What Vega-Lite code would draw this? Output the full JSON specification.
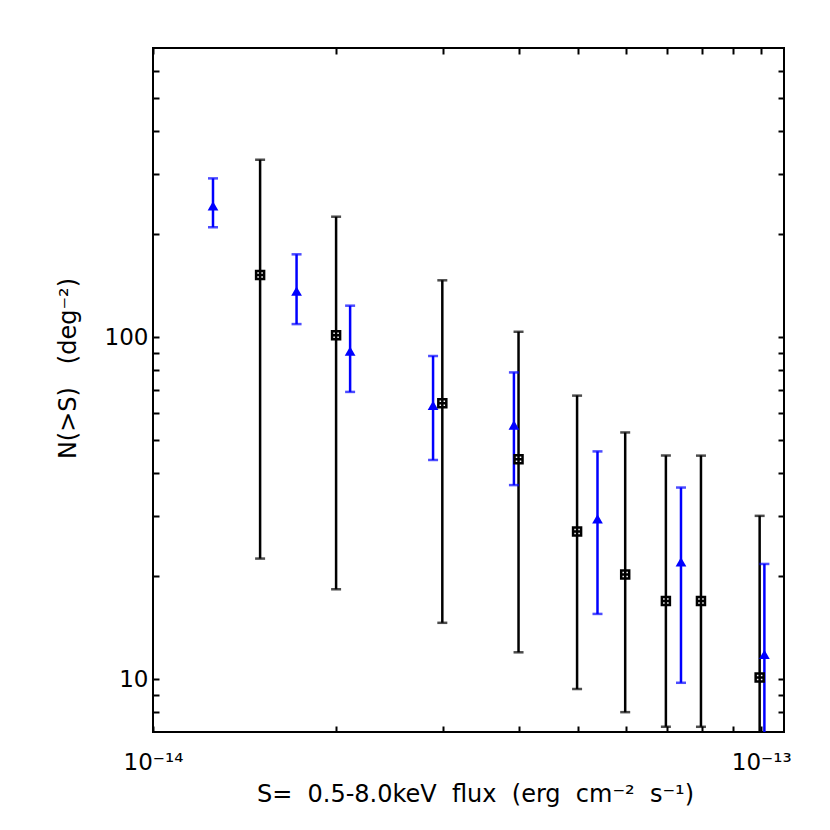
{
  "$schema": "https://vega.github.io/schema/vega-lite/v6.json",
  "width": 631,
  "height": 684,
  "autosize": "none",
  "padding": {"left": 153, "top": 48, "right": 46, "bottom": 98},
  "background": "white",
  "config": {
    "view": {"stroke": "black", "strokeWidth": 2},
    "font": "DejaVu Sans",
    "axis": {
      "labelFont": "DejaVu Sans", "titleFont": "DejaVu Sans",
      "labelColor": "black", "titleColor": "black", "tickColor": "black", "tickWidth": 2,
      "domain": false, "grid": false, "labelFontSize": 23, "titleFontSize": 24,
      "titleFontWeight": "normal", "labelOverlap": false, "labelFlush": false
    }
  },
  "data": {"values": [
    {"series": "triangle", "x": 1.255e-14, "y": 241.7, "ylo": 209.4, "yhi": 291},
    {"series": "triangle", "x": 1.722e-14, "y": 136.3, "ylo": 109.1, "yhi": 174.5},
    {"series": "triangle", "x": 2.109e-14, "y": 91.0, "ylo": 69.1, "yhi": 123.5},
    {"series": "triangle", "x": 2.887e-14, "y": 63.1, "ylo": 43.7, "yhi": 88.0},
    {"series": "triangle", "x": 3.921e-14, "y": 55.3, "ylo": 36.9, "yhi": 78.8},
    {"series": "triangle", "x": 5.38e-14, "y": 29.4, "ylo": 15.5, "yhi": 46.3},
    {"series": "triangle", "x": 7.38e-14, "y": 22.0, "ylo": 9.75, "yhi": 36.3},
    {"series": "triangle", "x": 1.012e-13, "y": 11.8, "ylo": 5, "yhi": 21.7},
    {"series": "square", "x": 1.5e-14, "y": 151.8, "ylo": 22.5, "yhi": 329.9},
    {"series": "square", "x": 2.0e-14, "y": 101.2, "ylo": 18.3, "yhi": 224.8},
    {"series": "square", "x": 2.99e-14, "y": 64.0, "ylo": 14.6, "yhi": 146.5},
    {"series": "square", "x": 3.99e-14, "y": 43.9, "ylo": 11.97, "yhi": 103.6},
    {"series": "square", "x": 4.98e-14, "y": 27.0, "ylo": 9.35, "yhi": 67.4},
    {"series": "square", "x": 5.975e-14, "y": 20.2, "ylo": 8.0, "yhi": 52.6},
    {"series": "square", "x": 6.97e-14, "y": 16.9, "ylo": 7.25, "yhi": 45.0},
    {"series": "square", "x": 7.96e-14, "y": 16.9, "ylo": 7.25, "yhi": 45.0},
    {"series": "square", "x": 9.94e-14, "y": 10.1, "ylo": 5, "yhi": 30.0}
  ]},
  "resolve": {"axis": {"x": "independent", "y": "independent"}},
  "layer": [
    {
      "mark": {"type": "rule", "strokeWidth": 2.5, "clip": true},
      "encoding": {
        "x": {
          "field": "x", "type": "quantitative",
          "scale": {"type": "log", "domain": [1e-14, 1.09e-13], "nice": false},
          "axis": {
            "orient": "bottom",
            "values": [1e-14, 2e-14, 3e-14, 4e-14, 5e-14, 6e-14, 7e-14, 8e-14, 9e-14, 1e-13],
            "tickSize": -6, "labelPadding": 43, "labelBaseline": "alphabetic",
            "labelExpr": "abs(log(datum.value)/LN10 + 14) < 0.01 ? '10⁻¹⁴' : (abs(log(datum.value)/LN10 + 13) < 0.01 ? '10⁻¹³' : '')",
            "title": "S=\u00a0\u00a00.5-8.0keV\u00a0\u00a0flux\u00a0\u00a0(erg\u00a0\u00a0cm⁻²\u00a0\u00a0s⁻¹)",
            "titleX": 322, "titleY": 69, "titleBaseline": "alphabetic", "titleAlign": "center",
            "encode": {"ticks": {"update": {"y2": {"signal": "(abs(log(datum.value)/LN10 + 14) < 0.01 || abs(log(datum.value)/LN10 + 13) < 0.01) ? -12 : -6"}}}}
          }
        },
        "y": {
          "field": "ylo", "type": "quantitative",
          "scale": {"type": "log", "domain": [7, 700], "nice": false},
          "axis": {
            "orient": "left",
            "values": [8, 9, 10, 20, 30, 40, 50, 60, 70, 80, 90, 100, 200, 300, 400, 500, 600],
            "tickSize": -6, "labelPadding": 11,
            "labelExpr": "datum.value == 10 ? '10' : (datum.value == 100 ? '100' : '')",
            "title": "N(>S)\u00a0\u00a0\u00a0(deg⁻²)",
            "titleX": -85, "titleY": 320, "titleAngle": -90, "titleBaseline": "middle", "titleAlign": "center",
            "encode": {"ticks": {"update": {"x2": {"signal": "(datum.value == 10 || datum.value == 100) ? 12 : 6"}}}}
          }
        },
        "y2": {"field": "yhi"},
        "color": {"field": "series", "type": "nominal", "scale": {"domain": ["triangle", "square"], "range": ["#0000ff", "#000000"]}, "legend": null}
      }
    },
    {
      "mark": {"type": "tick", "orient": "horizontal", "size": 10, "thickness": 2.5, "clip": true},
      "encoding": {
        "x": {
          "field": "x", "type": "quantitative",
          "axis": {
            "orient": "top",
            "values": [1e-14, 2e-14, 3e-14, 4e-14, 5e-14, 6e-14, 7e-14, 8e-14, 9e-14, 1e-13],
            "tickSize": -6, "labels": false, "title": null,
            "encode": {"ticks": {"update": {"y2": {"signal": "(abs(log(datum.value)/LN10 + 14) < 0.01 || abs(log(datum.value)/LN10 + 13) < 0.01) ? 12 : 6"}}}}
          }
        },
        "y": {
          "field": "yhi", "type": "quantitative",
          "axis": {
            "orient": "right",
            "values": [8, 9, 10, 20, 30, 40, 50, 60, 70, 80, 90, 100, 200, 300, 400, 500, 600],
            "tickSize": -6, "labels": false, "title": null,
            "encode": {"ticks": {"update": {"x2": {"signal": "(datum.value == 10 || datum.value == 100) ? -12 : -6"}}}}
          }
        },
        "color": {"field": "series", "type": "nominal", "legend": null}
      }
    },
    {
      "mark": {"type": "tick", "orient": "horizontal", "size": 10, "thickness": 2.5, "clip": true},
      "encoding": {
        "x": {"field": "x", "type": "quantitative", "axis": null},
        "y": {"field": "ylo", "type": "quantitative", "axis": null},
        "color": {"field": "series", "type": "nominal", "legend": null}
      }
    },
    {
      "transform": [{"filter": "datum.series == 'triangle'"}],
      "mark": {"type": "point", "shape": "triangle-up", "filled": true, "size": 115, "color": "#0000ff", "opacity": 1, "clip": true},
      "encoding": {
        "x": {"field": "x", "type": "quantitative", "axis": null},
        "y": {"field": "y", "type": "quantitative", "axis": null}
      }
    },
    {
      "transform": [{"filter": "datum.series == 'square'"}],
      "mark": {"type": "point", "shape": "M-1,-1H1V1H-1ZM-1,0H1M0,-1V1", "filled": true, "fill": "white", "stroke": "black", "strokeWidth": 2.5, "size": 64, "opacity": 1, "clip": true},
      "encoding": {
        "x": {"field": "x", "type": "quantitative", "axis": null},
        "y": {"field": "y", "type": "quantitative", "axis": null}
      }
    }
  ]
}
